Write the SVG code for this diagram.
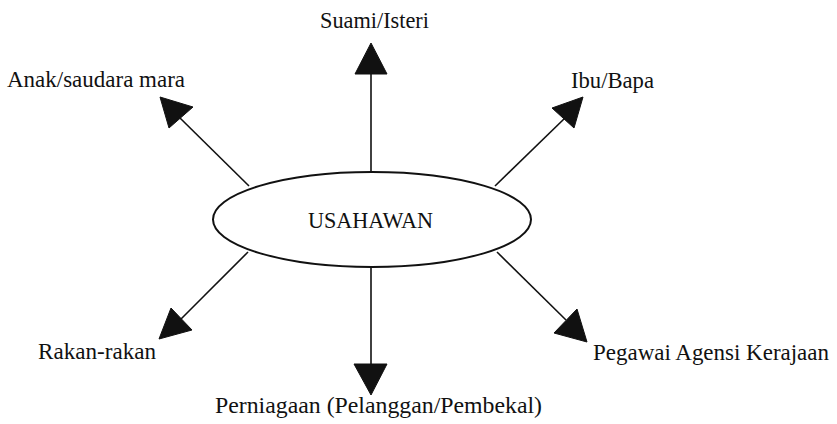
<svg xmlns="http://www.w3.org/2000/svg" width="837" height="424" viewBox="0 0 837 424">
<style>
text{font-family:"Liberation Serif","Times New Roman",serif;font-size:24px;fill:#111}
.sm{font-size:23px}
.ln{stroke:#111;stroke-width:1.6;fill:none}
.ah{fill:#111;stroke:#111;stroke-width:1;stroke-linejoin:miter}
</style>
<rect width="837" height="424" fill="#fff"/>
<g id="connectors">
<line class="ln" x1="371" y1="172" x2="371" y2="72"/>
<polygon class="ah" points="371,43 355,74 387,74"/>
<line class="ln" x1="249" y1="186" x2="180" y2="118"/>
<polygon class="ah" points="160,97 193,107 169,128"/>
<line class="ln" x1="495" y1="186" x2="565" y2="118"/>
<polygon class="ah" points="583,97 552,108 574,128"/>
<line class="ln" x1="248" y1="252" x2="180" y2="320"/>
<polygon class="ah" points="159,339 171,308 192,330"/>
<line class="ln" x1="371" y1="267" x2="371" y2="366"/>
<polygon class="ah" points="371,395 354,364 387,364"/>
<line class="ln" x1="497" y1="252" x2="566" y2="320"/>
<polygon class="ah" points="587,342 577,309 554,333"/>
</g>
<g id="usahawan">
<ellipse cx="372" cy="219.5" rx="159" ry="47.5" fill="#fff" stroke="#111" stroke-width="2"/>
<text x="308" y="228" textLength="125" lengthAdjust="spacingAndGlyphs">USAHAWAN</text>
</g>
<g id="suami"><text x="320" y="28" textLength="109" lengthAdjust="spacingAndGlyphs">Suami/Isteri</text></g>
<g id="anak"><text x="7" y="87" textLength="178" lengthAdjust="spacingAndGlyphs">Anak/saudara mara</text></g>
<g id="ibu"><text x="571" y="88" textLength="83" lengthAdjust="spacingAndGlyphs">Ibu/Bapa</text></g>
<g id="rakan"><text x="38" y="359" textLength="118" lengthAdjust="spacingAndGlyphs">Rakan-rakan</text></g>
<g id="pegawai"><text class="sm" x="593" y="360" textLength="236" lengthAdjust="spacingAndGlyphs">Pegawai Agensi Kerajaan</text></g>
<g id="perniagaan"><text x="215" y="413" textLength="327" lengthAdjust="spacingAndGlyphs">Perniagaan (Pelanggan/Pembekal)</text></g>
</svg>
